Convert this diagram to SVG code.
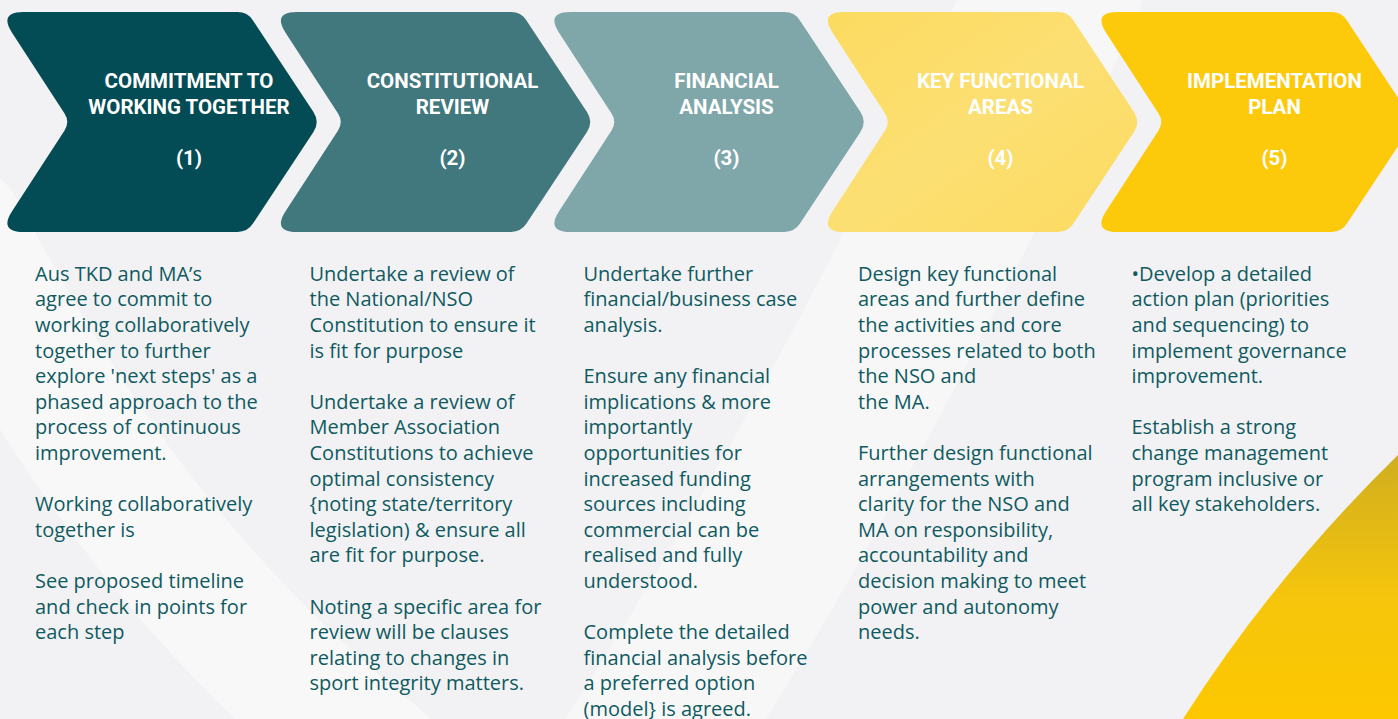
<svg xmlns="http://www.w3.org/2000/svg" width="1398" height="719" viewBox="0 0 1398 719">
  <defs>
    <!-- chevron outline with softened corners -->
    <path id="chev" d="M23.5,12 H237.5 Q247.5,12 252.95,20.38 L313.46,111.94 Q320,122 313.46,132.06 L252.95,223.62 Q247.5,232 237.5,232 H23.5 Q-1.5,232 12.2,211 L64.55,130.38 Q70,122 64.55,113.62 L12.2,33 Q-1.5,12 23.5,12 Z"/>
    <linearGradient id="gold" x1="0" y1="0" x2="0" y2="1">
      <stop offset="0" stop-color="#d0ae1e"/>
      <stop offset="0.55" stop-color="#f6c50c"/>
      <stop offset="1" stop-color="#fdc800"/>
    </linearGradient>
    <linearGradient id="sheen" x1="0" y1="0" x2="1" y2="1">
      <stop offset="0" stop-color="#ffffff" stop-opacity="0"/>
      <stop offset="0.5" stop-color="#ffffff" stop-opacity="0.12"/>
      <stop offset="1" stop-color="#ffffff" stop-opacity="0"/>
    </linearGradient>
  </defs>
  <style>
    .head { font-family: Roboto, "Liberation Sans", sans-serif; font-weight: 700; font-size: 20.5px; fill: #ffffff; text-anchor: middle; }
    .body { font-family: "Open Sans", "Noto Sans", sans-serif; font-size: 20px; fill: #0f5a5f; }
  </style>

  <!-- backdrop -->
  <rect width="1398" height="719" fill="#f2f2f4"/>
  <g id="backdrop-swooshes" fill="none" stroke="#ffffff" stroke-linecap="round">
    <path d="M-40,230 C60,420 180,600 380,760" stroke-width="130" stroke-opacity="0.45"/>
    <path d="M1060,-20 C960,200 820,480 640,760" stroke-width="170" stroke-opacity="0.4"/>
  </g>
  <path id="gold-corner" d="M1183,719 Q1275,575 1398,455 V719 Z" fill="url(#gold)"/>

  <!-- step 1 -->
  <g id="step1">
    <use href="#chev" fill="#034c55"/>
    <text class="head" x="189" y="88">COMMITMENT TO</text>
    <text class="head" x="189" y="113.5">WORKING TOGETHER</text>
    <text class="head" x="189" y="165">(1)</text>
  </g>
  <!-- step 2 -->
  <g id="step2">
    <use href="#chev" x="273.5" fill="#41787d"/>
    <text class="head" x="452.5" y="88">CONSTITUTIONAL</text>
    <text class="head" x="452.5" y="113.5">REVIEW</text>
    <text class="head" x="452.5" y="165">(2)</text>
  </g>
  <!-- step 3 -->
  <g id="step3">
    <use href="#chev" x="547" fill="#7fa7aa"/>
    <text class="head" x="726.5" y="88">FINANCIAL</text>
    <text class="head" x="726.5" y="113.5">ANALYSIS</text>
    <text class="head" x="726.5" y="165">(3)</text>
  </g>
  <!-- step 4 -->
  <g id="step4">
    <use href="#chev" x="820.5" fill="#fcdb60"/>
    <use href="#chev" x="820.5" fill="url(#sheen)"/>
    <text class="head" x="1000.5" y="88">KEY FUNCTIONAL</text>
    <text class="head" x="1000.5" y="113.5">AREAS</text>
    <text class="head" x="1000.5" y="165">(4)</text>
  </g>
  <!-- step 5 -->
  <g id="step5">
    <use href="#chev" x="1094" fill="#fdc90b"/>
    <text class="head" x="1274.5" y="88">IMPLEMENTATION</text>
    <text class="head" x="1274.5" y="113.5">PLAN</text>
    <text class="head" x="1274.5" y="165">(5)</text>
  </g>

  <!-- descriptions under each step -->
  <g id="desc1" class="body">
    <text x="35" y="280.7">Aus TKD and MA’s</text>
    <text x="35" y="306.3">agree to commit to</text>
    <text x="35" y="331.9">working collaboratively</text>
    <text x="35" y="357.5">together to further</text>
    <text x="35" y="383.1">explore 'next steps' as a</text>
    <text x="35" y="408.7">phased approach to the</text>
    <text x="35" y="434.3">process of continuous</text>
    <text x="35" y="459.9">improvement.</text>
    <text x="35" y="511.1">Working collaboratively</text>
    <text x="35" y="536.7">together is</text>
    <text x="35" y="587.9">See proposed timeline</text>
    <text x="35" y="613.5">and check in points for</text>
    <text x="35" y="639.1">each step</text>
  </g>
  <g id="desc2" class="body">
    <text x="309.5" y="280.7">Undertake a review of</text>
    <text x="309.5" y="306.3">the National/NSO</text>
    <text x="309.5" y="331.9">Constitution to ensure it</text>
    <text x="309.5" y="357.5">is fit for purpose</text>
    <text x="309.5" y="408.7">Undertake a review of</text>
    <text x="309.5" y="434.3">Member Association</text>
    <text x="309.5" y="459.9">Constitutions to achieve</text>
    <text x="309.5" y="485.5">optimal consistency</text>
    <text x="309.5" y="511.1">{noting state/territory</text>
    <text x="309.5" y="536.7">legislation) &amp; ensure all</text>
    <text x="309.5" y="562.3">are fit for purpose.</text>
    <text x="309.5" y="613.5">Noting a specific area for</text>
    <text x="309.5" y="639.1">review will be clauses</text>
    <text x="309.5" y="664.7">relating to changes in</text>
    <text x="309.5" y="690.3">sport integrity matters.</text>
  </g>
  <g id="desc3" class="body">
    <text x="583.5" y="280.7">Undertake further</text>
    <text x="583.5" y="306.3">financial/business case</text>
    <text x="583.5" y="331.9">analysis.</text>
    <text x="583.5" y="383.1">Ensure any financial</text>
    <text x="583.5" y="408.7">implications &amp; more</text>
    <text x="583.5" y="434.3">importantly</text>
    <text x="583.5" y="459.9">opportunities for</text>
    <text x="583.5" y="485.5">increased funding</text>
    <text x="583.5" y="511.1">sources including</text>
    <text x="583.5" y="536.7">commercial can be</text>
    <text x="583.5" y="562.3">realised and fully</text>
    <text x="583.5" y="587.9">understood.</text>
    <text x="583.5" y="639.1">Complete the detailed</text>
    <text x="583.5" y="664.7">financial analysis before</text>
    <text x="583.5" y="690.3">a preferred option</text>
    <text x="583.5" y="715.5">(model} is agreed.</text>
  </g>
  <g id="desc4" class="body">
    <text x="858" y="280.7">Design key functional</text>
    <text x="858" y="306.3">areas and further define</text>
    <text x="858" y="331.9">the activities and core</text>
    <text x="858" y="357.5">processes related to both</text>
    <text x="858" y="383.1">the NSO and</text>
    <text x="858" y="408.7">the MA.</text>
    <text x="858" y="459.9">Further design functional</text>
    <text x="858" y="485.5">arrangements with</text>
    <text x="858" y="511.1">clarity for the NSO and</text>
    <text x="858" y="536.7">MA on responsibility,</text>
    <text x="858" y="562.3">accountability and</text>
    <text x="858" y="587.9">decision making to meet</text>
    <text x="858" y="613.5">power and autonomy</text>
    <text x="858" y="639.1">needs.</text>
  </g>
  <g id="desc5" class="body">
    <text x="1131.5" y="280.7">•Develop a detailed</text>
    <text x="1131.5" y="306.3">action plan (priorities</text>
    <text x="1131.5" y="331.9">and sequencing) to</text>
    <text x="1131.5" y="357.5">implement governance</text>
    <text x="1131.5" y="383.1">improvement.</text>
    <text x="1131.5" y="434.3">Establish a strong</text>
    <text x="1131.5" y="459.9">change management</text>
    <text x="1131.5" y="485.5">program inclusive or</text>
    <text x="1131.5" y="511.1">all key stakeholders.</text>
  </g>
</svg>
